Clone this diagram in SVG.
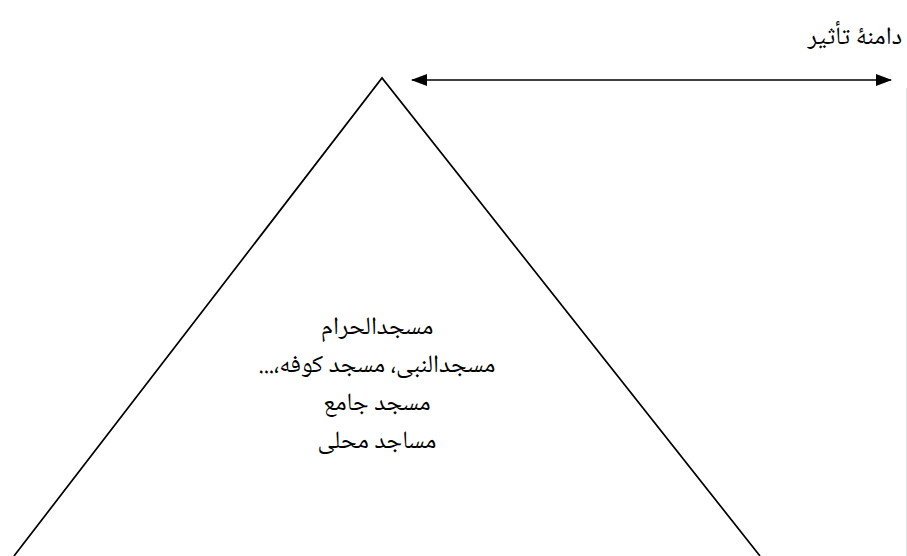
<svg xmlns="http://www.w3.org/2000/svg" width="907" height="556" viewBox="0 0 907 556">
<style>
.t{font-family:"Noto Naskh Arabic","Noto Sans Arabic","DejaVu Sans",sans-serif;font-size:25px;fill:#000;direction:rtl;unicode-bidi:embed}
.ln{stroke:#000;stroke-width:1.7;fill:none}
</style>
<defs>
<marker id="ah" viewBox="0 0 16 12" refX="15" refY="6" markerWidth="16" markerHeight="12" markerUnits="userSpaceOnUse" orient="auto-start-reverse">
<path d="M0,0 L16,6 L0,12 z" fill="#000"/>
</marker>
</defs>
<rect width="907" height="556" fill="#fff"/>
<line x1="906.5" y1="88" x2="906.5" y2="556" stroke="#e0e0e0" stroke-width="1"/>
<g id="pyramid">
<polyline class="ln" points="14,556 382,78 760,556"/>
<text class="t" x="377" y="334" text-anchor="middle">مسجدالحرام</text>
<text class="t" x="377" y="372" text-anchor="middle">مسجدالنبی، مسجد کوفه،...</text>
<text class="t" x="377" y="410" text-anchor="middle">مسجد جامع</text>
<text class="t" x="377" y="448" text-anchor="middle">مساجد محلی</text>
</g>
<g id="label">
<text class="t" x="902" y="44" text-anchor="start">دامنهٔ تأثیر</text>
</g>
<g id="connectors">
<line class="ln" x1="412" y1="80" x2="891" y2="80" stroke-width="2.8" marker-start="url(#ah)" marker-end="url(#ah)"/>
</g>
</svg>
